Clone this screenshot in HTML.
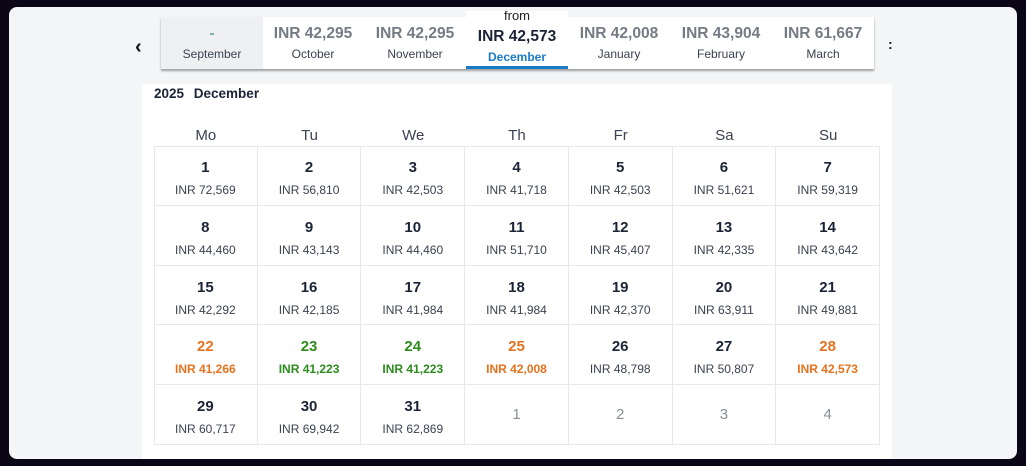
<!DOCTYPE html>
<html><head><meta charset="utf-8">
<style>
*{box-sizing:border-box;margin:0;padding:0}
body{width:1026px;height:466px;background:#0c0716;font-family:"Liberation Sans",sans-serif;position:relative;overflow:hidden}
#panel{position:absolute;left:9px;top:7px;width:1008px;height:452px;background:#f4f5f7;border-radius:8px}
#tabs{position:absolute;left:161px;top:17px;width:713px;height:52px;background:#fff;box-shadow:0 2px 2px rgba(0,0,0,.35)}
.tab{position:absolute;top:0;height:52px;text-align:center;width:102px}
.tab .p{position:absolute;left:0;right:0;top:8px;font-size:15.5px;font-weight:bold;color:#757b84}
.tab .m{position:absolute;left:0;right:0;top:30px;font-size:12px;color:#3a4150}
#sep{background:#eef0f2}
#sep .p{color:#7aa;top:8px}
#act{position:absolute;left:466px;top:11px;width:102px;height:58px;background:#fff;border-bottom:3px solid #1a7bc7;text-align:center;overflow:hidden}
#act .f{position:absolute;left:0;right:0;top:-3px;font-size:13px;color:#222}
#act .p{position:absolute;left:0;right:0;top:17px;font-size:15.5px;font-weight:bold;color:#1b2436}
#act .m{position:absolute;left:0;right:0;top:39px;font-size:12px;font-weight:bold;color:#1a7bc7}
#card{position:absolute;left:142px;top:84px;width:750px;height:375px;background:#fff}
#title{position:absolute;left:154px;top:86px;font-size:13.5px;font-weight:bold;color:#1b2436;word-spacing:6px}
.hd{position:absolute;top:127px;font-size:15px;color:#3a4150;text-align:center}
#grid{position:absolute;left:154px;top:146px;width:726px;height:299px;border:1px solid #e6e8eb}
.cell{position:absolute;border-right:1px solid #e6e8eb;border-bottom:1px solid #e6e8eb;text-align:center}
.d{position:absolute;left:0;right:0;top:13px;font-size:15px;font-weight:bold;color:#1b2436}
.pr{position:absolute;left:0;right:0;top:37px;font-size:12px;color:#3a4150}
.nx .d{font-weight:normal;color:#8a8f97;top:21px}
.or .d,.or .pr{color:#e6721e;font-weight:bold}
.gr .d,.gr .pr{color:#2e8b1e;font-weight:bold}
.arrow{position:absolute;font-size:20px;font-weight:bold;color:#111}
</style></head><body>
<div id="panel"></div>
<div class="arrow" style="left:135px;top:36px">&#8249;</div>
<div class="arrow" style="left:888px;top:36px;font-size:14px">:</div>
<div id="tabs">
 <div class="tab" id="sep" style="left:0"><div class="p">-</div><div class="m">September</div></div>
 <div class="tab" style="left:101px"><div class="p">INR 42,295</div><div class="m">October</div></div>
 <div class="tab" style="left:203px"><div class="p">INR 42,295</div><div class="m">November</div></div>
 <div class="tab" style="left:407px"><div class="p">INR 42,008</div><div class="m">January</div></div>
 <div class="tab" style="left:509px"><div class="p">INR 43,904</div><div class="m">February</div></div>
 <div class="tab" style="left:611px"><div class="p">INR 61,667</div><div class="m">March</div></div>
</div>
<div id="act"><div class="f">from</div><div class="p">INR 42,573</div><div class="m">December</div></div>
<div id="card"></div>
<div id="title">2025 December</div>
<div id="grid"></div>
<script>
const weekdays=["Mo","Tu","We","Th","Fr","Sa","Su"];
const days=[1,2,3,4,5,6,7,8,9,10,11,12,13,14,15,16,17,18,19,20,21,22,23,24,25,26,27,28,29,30,31,1,2,3,4];
const prices=["INR 72,569","INR 56,810","INR 42,503","INR 41,718","INR 42,503","INR 51,621","INR 59,319","INR 44,460","INR 43,143","INR 44,460","INR 51,710","INR 45,407","INR 42,335","INR 43,642","INR 42,292","INR 42,185","INR 41,984","INR 41,984","INR 42,370","INR 63,911","INR 49,881","INR 41,266","INR 41,223","INR 41,223","INR 42,008","INR 48,798","INR 50,807","INR 42,573","INR 60,717","INR 69,942","INR 62,869","","","",""];
const kinds=["","","","","","","","","","","","","","","","","","","","","","or","gr","gr","or","","","or","","","","nx","nx","nx","nx"];
const cw=726/7, rh=299/5;
weekdays.forEach((w,i)=>{
 const h=document.createElement('div');h.className='hd';
 
 
 h.style.left=(154+i*cw)+'px';h.style.width=cw+'px';h.textContent=w;document.body.appendChild(h);
});
const g=document.getElementById('grid');
days.forEach((d,i)=>{
 const c=document.createElement('div');c.className='cell '+kinds[i];
 
 
 c.style.left=(i%7)*cw-1+'px';c.style.top=Math.floor(i/7)*rh-1+'px';c.style.width=cw+'px';c.style.height=rh+'px';
 c.innerHTML='<div class="d">'+d+'</div>'+(prices[i]?'<div class="pr">'+prices[i]+'</div>':'');
 g.appendChild(c);
});
</script>
</body></html>
